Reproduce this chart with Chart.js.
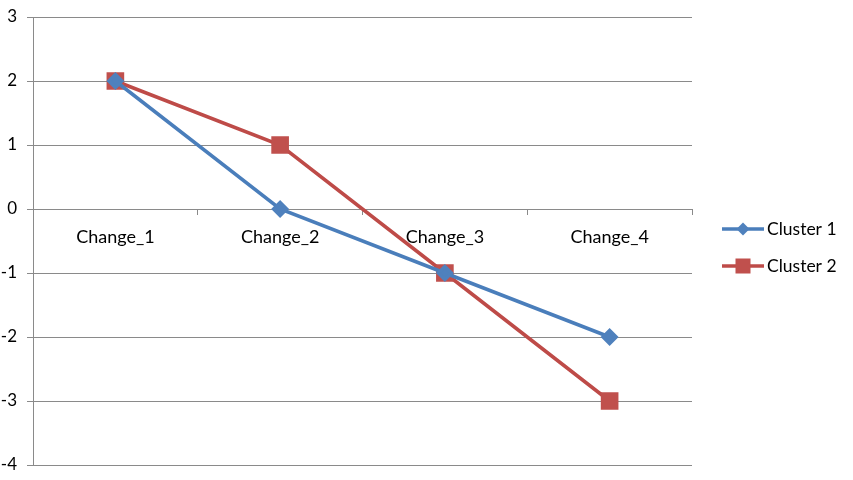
<!DOCTYPE html>
<html>
<head>
<meta charset="utf-8">
<script src="https://cdn.jsdelivr.net/npm/chart.js@4/dist/chart.umd.min.js"></script>
<style>
  html, body { margin: 0; padding: 0; background: #fff; }
  #wrap { width: 853px; height: 480px; }
</style>
</head>
<body>
<div id="wrap"><canvas id="chart" width="853" height="480"></canvas></div>
<script>
const categories = ['Change_1', 'Change_2', 'Change_3', 'Change_4'];
const cluster1 = [2, 0, -1, -2];
const cluster2 = [2, 1, -1, -3];
const yTicks = [-4, -3, -2, -1, 0, 1, 2, 3];

const FONT = 'Lato, "Open Sans", sans-serif';
const GRID = '#8a8a8a';

// legend on the right: line with marker in the middle, like the spreadsheet one
const sideLegend = {
  id: 'sideLegend',
  afterDraw(chart) {
    const ctx = chart.ctx;
    const x0 = chart.chartArea.right + 30;
    const rows = [229, 266];
    chart.data.datasets.forEach((ds, i) => {
      const y = rows[i];
      ctx.save();
      ctx.strokeStyle = ds.borderColor;
      ctx.lineWidth = 3.5;
      ctx.beginPath();
      ctx.moveTo(x0, y);
      ctx.lineTo(x0 + 42, y);
      ctx.stroke();
      ctx.fillStyle = ds.pointBackgroundColor;
      const cx = x0 + 21;
      if (ds.pointStyle === 'rect') {
        ctx.fillRect(cx - 7.5, y - 7.5, 15, 15);
      } else {
        ctx.beginPath();
        ctx.moveTo(cx, y - 6.5);
        ctx.lineTo(cx + 6.5, y);
        ctx.lineTo(cx, y + 6.5);
        ctx.lineTo(cx - 6.5, y);
        ctx.closePath();
        ctx.fill();
      }
      ctx.fillStyle = '#000';
      ctx.font = '17.5px ' + FONT;
      ctx.textBaseline = 'middle';
      ctx.textAlign = 'left';
      ctx.fillText(ds.label, x0 + 45, y);
      ctx.restore();
    });
  }
};

new Chart(document.getElementById('chart'), {
  type: 'line',
  data: {
    labels: categories,
    datasets: [
      {
        label: 'Cluster 1',
        data: cluster1,
        borderColor: '#4A7EBB',
        backgroundColor: '#4F81BD',
        pointBackgroundColor: '#4F81BD',
        pointBorderColor: '#4F81BD',
        pointStyle: 'rectRot',
        pointRadius: 6.5,
        borderWidth: 3.5,
        tension: 0
      },
      {
        label: 'Cluster 2',
        data: cluster2,
        borderColor: '#BE4B48',
        backgroundColor: '#C0504D',
        pointBackgroundColor: '#C0504D',
        pointBorderColor: '#C0504D',
        pointStyle: 'rect',
        pointRadius: 10,
        borderWidth: 3.5,
        tension: 0
      }
    ]
  },
  options: {
    responsive: false,
    animation: false,
    layout: { padding: { top: 17, right: 161, bottom: 15, left: 0 } },
    plugins: {
      legend: { display: false },
      tooltip: { enabled: false }
    },
    scales: {
      x: {
        type: 'category',
        position: { y: 0 },
        offset: true,
        afterFit(scale) {
          scale.height = 0;
          scale.paddingLeft = 0;
          scale.paddingRight = 0;
        },
        grid: {
          offset: true,
          drawOnChartArea: false,
          drawTicks: true,
          tickLength: 5,
          color: GRID
        },
        border: { display: true, color: GRID, width: 1 },
        ticks: {
          color: '#000',
          padding: 12,
          font: { family: FONT, size: 18 }
        }
      },
      y: {
        min: -4,
        max: 3,
        afterFit(scale) {
          scale.width = 33;
          scale.paddingTop = 0;
          scale.paddingBottom = 0;
        },
        afterBuildTicks(scale) { scale.ticks = yTicks.map(v => ({ value: v })); },
        grid: {
          color: GRID,
          drawTicks: true,
          tickLength: 6
        },
        border: { display: true, color: GRID, width: 1 },
        ticks: {
          color: '#000',
          padding: 10,
          font: { family: FONT, size: 17 }
        }
      }
    }
  },
  plugins: [sideLegend]
});
</script>
</body>
</html>
